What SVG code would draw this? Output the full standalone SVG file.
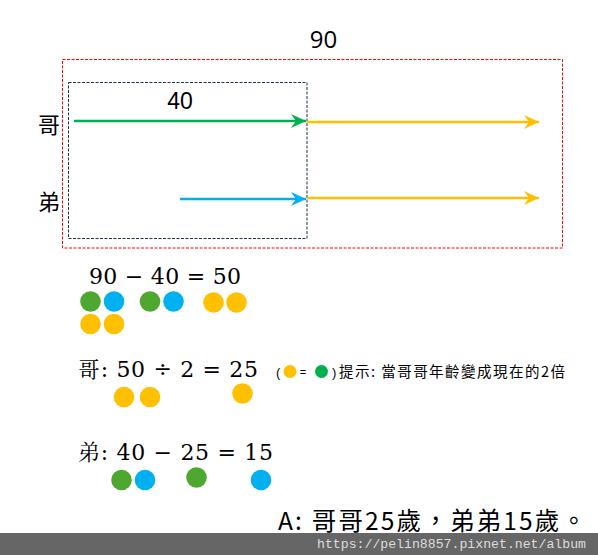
<svg xmlns="http://www.w3.org/2000/svg" width="598" height="555" viewBox="0 0 598 555">
<style>
.lbl{font-family:"Liberation Sans","Noto Sans CJK TC",sans-serif;fill:#000}
.cjk{font-family:"Noto Sans CJK TC",sans-serif;fill:#000}
.math{font-family:"DejaVu Serif","Liberation Serif","Noto Serif CJK TC","Noto Sans CJK TC",serif;fill:#000}
.ln{stroke-width:2.5;fill:none}
</style>
<defs>
<marker id="ag" markerUnits="userSpaceOnUse" markerWidth="16" markerHeight="16" viewBox="0 0 16 16" refX="15" refY="8" orient="auto"><path d="M0,1 L15,8 L0,15 L5,8 Z" fill="#00B050"/></marker>
<marker id="ab" markerUnits="userSpaceOnUse" markerWidth="16" markerHeight="16" viewBox="0 0 16 16" refX="15" refY="8" orient="auto"><path d="M0,1 L15,8 L0,15 L5,8 Z" fill="#00B0F0"/></marker>
<marker id="ay" markerUnits="userSpaceOnUse" markerWidth="16" markerHeight="16" viewBox="0 0 16 16" refX="15" refY="8" orient="auto"><path d="M0,1 L15,8 L0,15 L5,8 Z" fill="#FFC000"/></marker>
</defs>
<rect width="598" height="555" fill="#fff"/>
<g id="frame90">
<rect x="62.5" y="59.5" width="500" height="188.5" fill="none" stroke="#FF0000" stroke-width="1" stroke-dasharray="3,1.5"/>
<text x="323.5" y="48" font-family="Open Sans,Liberation Sans,sans-serif" font-size="24" fill="#000" text-anchor="middle">90</text>
</g>
<g id="frame40">
<rect x="68.5" y="82.5" width="238.5" height="156" fill="none" stroke="#1F3347" stroke-width="1" stroke-dasharray="3,1.5"/>
<text class="lbl" x="180" y="108.5" font-size="23" text-anchor="middle">40</text>
</g>
<g id="labels">
<text class="cjk" x="49" y="133" font-size="22" text-anchor="middle">哥</text>
<text class="cjk" x="49" y="210" font-size="22" text-anchor="middle">弟</text>
</g>
<g id="connectors">
<line class="ln" x1="74" y1="121" x2="306" y2="121" stroke="#00B050" marker-end="url(#ag)"/>
<line class="ln" x1="307" y1="122" x2="539" y2="122" stroke="#FFC000" marker-end="url(#ay)"/>
<line class="ln" x1="180" y1="199" x2="306" y2="199" stroke="#00B0F0" marker-end="url(#ab)"/>
<line class="ln" x1="307" y1="198" x2="539" y2="198" stroke="#FFC000" marker-end="url(#ay)"/>
</g>
<g id="eq1">
<text class="math" x="89" y="284" font-size="22" textLength="152">90 − 40 = 50</text>
<circle cx="90.5" cy="301.5" r="10.3" fill="#4EA72E"/>
<circle cx="114" cy="301.5" r="10.3" fill="#00B0F0"/>
<circle cx="150" cy="301.5" r="10.3" fill="#4EA72E"/>
<circle cx="173.5" cy="301.5" r="10.3" fill="#00B0F0"/>
<circle cx="213.5" cy="302.5" r="10.3" fill="#FFC000"/>
<circle cx="236.5" cy="302.5" r="10.3" fill="#FFC000"/>
<circle cx="90.5" cy="324" r="10.3" fill="#FFC000"/>
<circle cx="114" cy="324" r="10.3" fill="#FFC000"/>
</g>
<g id="eq2">
<text class="math" x="78" y="377" font-size="22" textLength="180">哥: 50 ÷ 2 = 25</text>
<circle cx="124" cy="397" r="10.3" fill="#FFC000"/>
<circle cx="150" cy="397" r="10.3" fill="#FFC000"/>
<circle cx="242.5" cy="393.5" r="10.3" fill="#FFC000"/>
</g>
<g id="hint">
<text class="lbl" x="276" y="377" font-size="13" fill="#444">(</text>
<circle cx="290" cy="371.5" r="6.5" fill="#FFC000"/>
<text class="lbl" x="303" y="376" font-size="11" text-anchor="middle">=</text>
<circle cx="321.5" cy="371.5" r="6.5" fill="#00B050"/>
<text class="lbl" x="332" y="377" font-size="13">)</text>
<text class="cjk" x="339" y="377" font-size="14.5" textLength="226">提示: 當哥哥年齡變成現在的2倍</text>
</g>
<g id="eq3">
<text class="math" x="78" y="460" font-size="22" textLength="195">弟: 40 − 25 = 15</text>
<circle cx="121.5" cy="480" r="10.3" fill="#4EA72E"/>
<circle cx="145" cy="480" r="10.3" fill="#00B0F0"/>
<circle cx="196.5" cy="477.5" r="10.3" fill="#4EA72E"/>
<circle cx="261" cy="480" r="10.3" fill="#00B0F0"/>
</g>
<g id="answer">
<text class="cjk" x="278" y="530" font-size="24.5" textLength="308">A: 哥哥25歲，弟弟15歲。</text>
</g>
<g id="watermark">
<rect x="0" y="533" width="598" height="22" fill="#666666"/>
<text x="317" y="548" font-family="Liberation Mono,DejaVu Sans Mono,monospace" font-size="13.2" fill="#DDDDDD" textLength="269">https://pelin8857.pixnet.net/album</text>
</g>
</svg>
